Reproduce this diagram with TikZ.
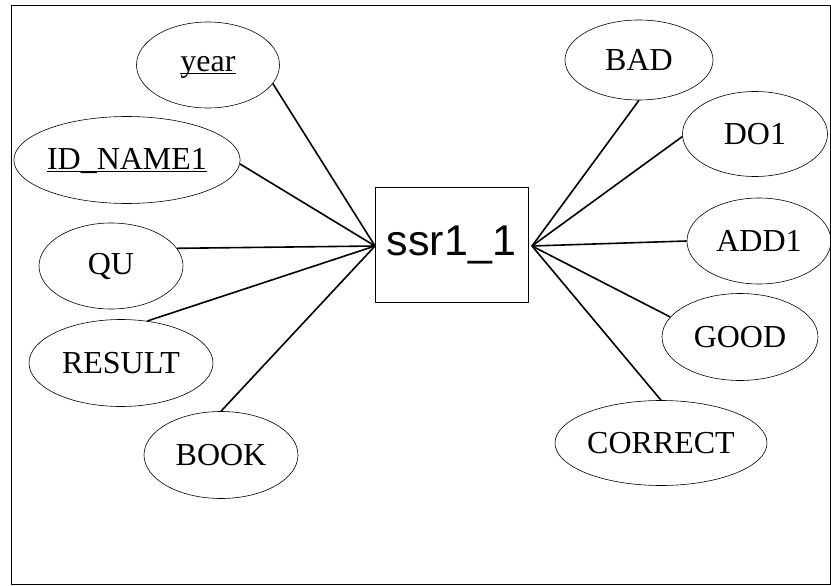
\documentclass[tikz,border=0pt]{standalone}
\usepackage{fontspec}
\setmainfont{Liberation Serif}
\newfontfamily\boxfont{Liberation Sans}
\usetikzlibrary{shapes.geometric}
\begin{document}
\begin{tikzpicture}[x=1pt,y=-1pt,
  attr/.style={ellipse,draw,line width=0.6pt,inner sep=0pt,font=\fontsize{32}{34}\selectfont},
  entity/.style={draw,line width=0.7pt,inner sep=0pt,font=\boxfont\fontsize{43}{46}\selectfont},
  link/.style={line width=1.6pt},
  frame/.style={line width=1pt}]
\useasboundingbox (0,0) rectangle (831,586);
\draw[frame] (11,6) rectangle (830,584);
% entity
\node[entity,minimum width=153pt,minimum height=115pt] (ent) at (451.5,244.5) {ssr1\_1};
\coordinate (hl) at (375,246);
\coordinate (hr) at (532,246);
% left attributes
\node[attr,minimum width=143pt,minimum height=86pt] (year) at (208,65) {\underbar{year}};
\node[attr,minimum width=224pt,minimum height=87pt] (idn) at (127,160) {\underbar{ID\_NAME1}};
\node[attr,minimum width=144pt,minimum height=86pt] (qu) at (111,266) {QU};
\node[attr,minimum width=184pt,minimum height=87pt] (res) at (121,363) {RESULT};
\node[attr,minimum width=154pt,minimum height=87pt] (book) at (221,455) {BOOK};
% right attributes
\node[attr,minimum width=148pt,minimum height=80pt] (bad) at (639,60) {BAD};
\node[attr,minimum width=145pt,minimum height=85pt] (do) at (755,134) {DO1};
\node[attr,minimum width=144pt,minimum height=86pt] (add) at (759,241) {ADD1};
\node[attr,minimum width=156pt,minimum height=87pt] (good) at (740,337) {GOOD};
\node[attr,minimum width=212pt,minimum height=85pt] (corr) at (661,443) {CORRECT};
% links
\draw[link] (hl) -- (year.-16);
\draw[link] (hl) -- (idn.-2);
\draw[link] (hl) -- (qu.15);
\draw[link] (hl) -- (res.58);
\draw[link] (hl) -- (book.north);
\draw[link] (hr) -- (bad.south);
\draw[link] (hr) -- (do.182);
\draw[link] (hr) -- (add.west);
\draw[link] (hr) -- (good.164);
\draw[link] (hr) -- (corr.north);
\end{tikzpicture}
\end{document}
